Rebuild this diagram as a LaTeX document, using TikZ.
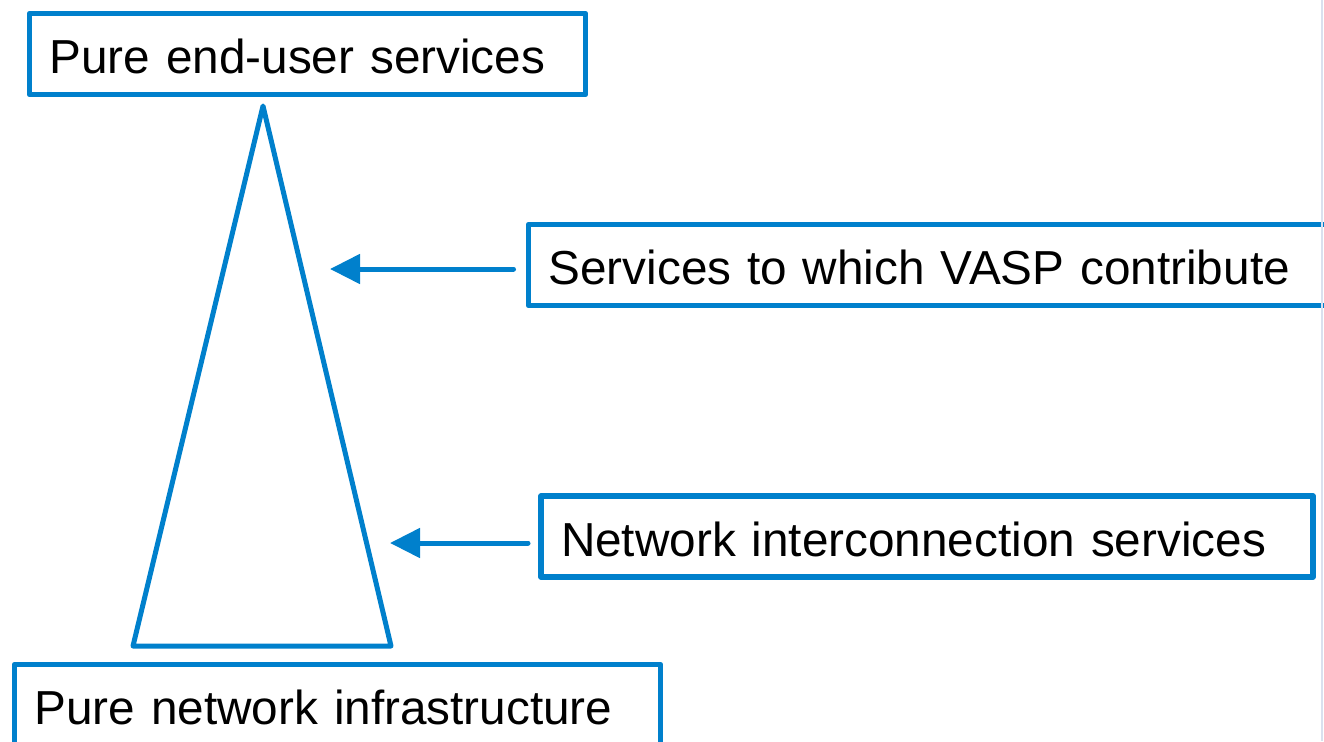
\documentclass[tikz,border=0pt]{standalone}
\usepackage{fontspec}
\setmainfont{Liberation Sans}
\usetikzlibrary{arrows.meta}
\definecolor{vblue}{RGB}{0,128,204}
\definecolor{edgegray}{RGB}{218,224,238}
\tikzset{>={Triangle[width=29pt,length=30pt]}}
\tikzset{
  labelbox/.style={draw=vblue, line width=5.5pt, line join=round, rectangle,
    anchor=north west, outer sep=0pt, minimum height=81pt, inner xsep=20pt, inner ysep=0pt,
    text height=39pt, text depth=0pt,
    align=left, font=\fontsize{47.7}{56}\selectfont},
  pointer/.style={draw=vblue, line width=5pt, line cap=round, ->},
  pyramid/.style={draw=vblue, line width=5pt, line join=round}
}

\begin{document}
\begin{tikzpicture}[x=1pt,y=-1pt]

  \useasboundingbox (0,0) rectangle (1324,741);
  \clip (0,0) rectangle (1324,741);

  % pyramid of services
  \coordinate (apex) at (263,106);
  \coordinate (baseL) at (133,646);
  \coordinate (baseR) at (391,646);
  \draw[pyramid] (apex) -- (baseR) -- (baseL) -- cycle;

  % boxes
  \node[labelbox, minimum width=556pt, text width=516pt] (enduser) at (29.5,13.5) {Pure end-user services};
  \node[labelbox, minimum width=830pt, text width=790pt] (vasp) at (528.5,224.5) {Services to which VASP contribute};
  \node[labelbox, minimum width=772pt, text width=732pt] (interconn) at (541,496) {Network interconnection services};
  \node[labelbox, minimum width=646pt, text width=606pt] (infra) at (14.5,664.5) {Pure network infrastructure};

  % arrow tips near the pyramid
  \coordinate (tipA) at (330,269);
  \coordinate (tipB) at (390,543);

  \draw[pointer, shorten <=15pt] (tipA -| vasp.west) -- (tipA);
  \draw[pointer, shorten <=13pt] (tipB -| interconn.west) -- (tipB);

  % window edge
  \draw[edgegray, line width=2.5pt] (1322,0) -- (1322,741);

\end{tikzpicture}
\end{document}
